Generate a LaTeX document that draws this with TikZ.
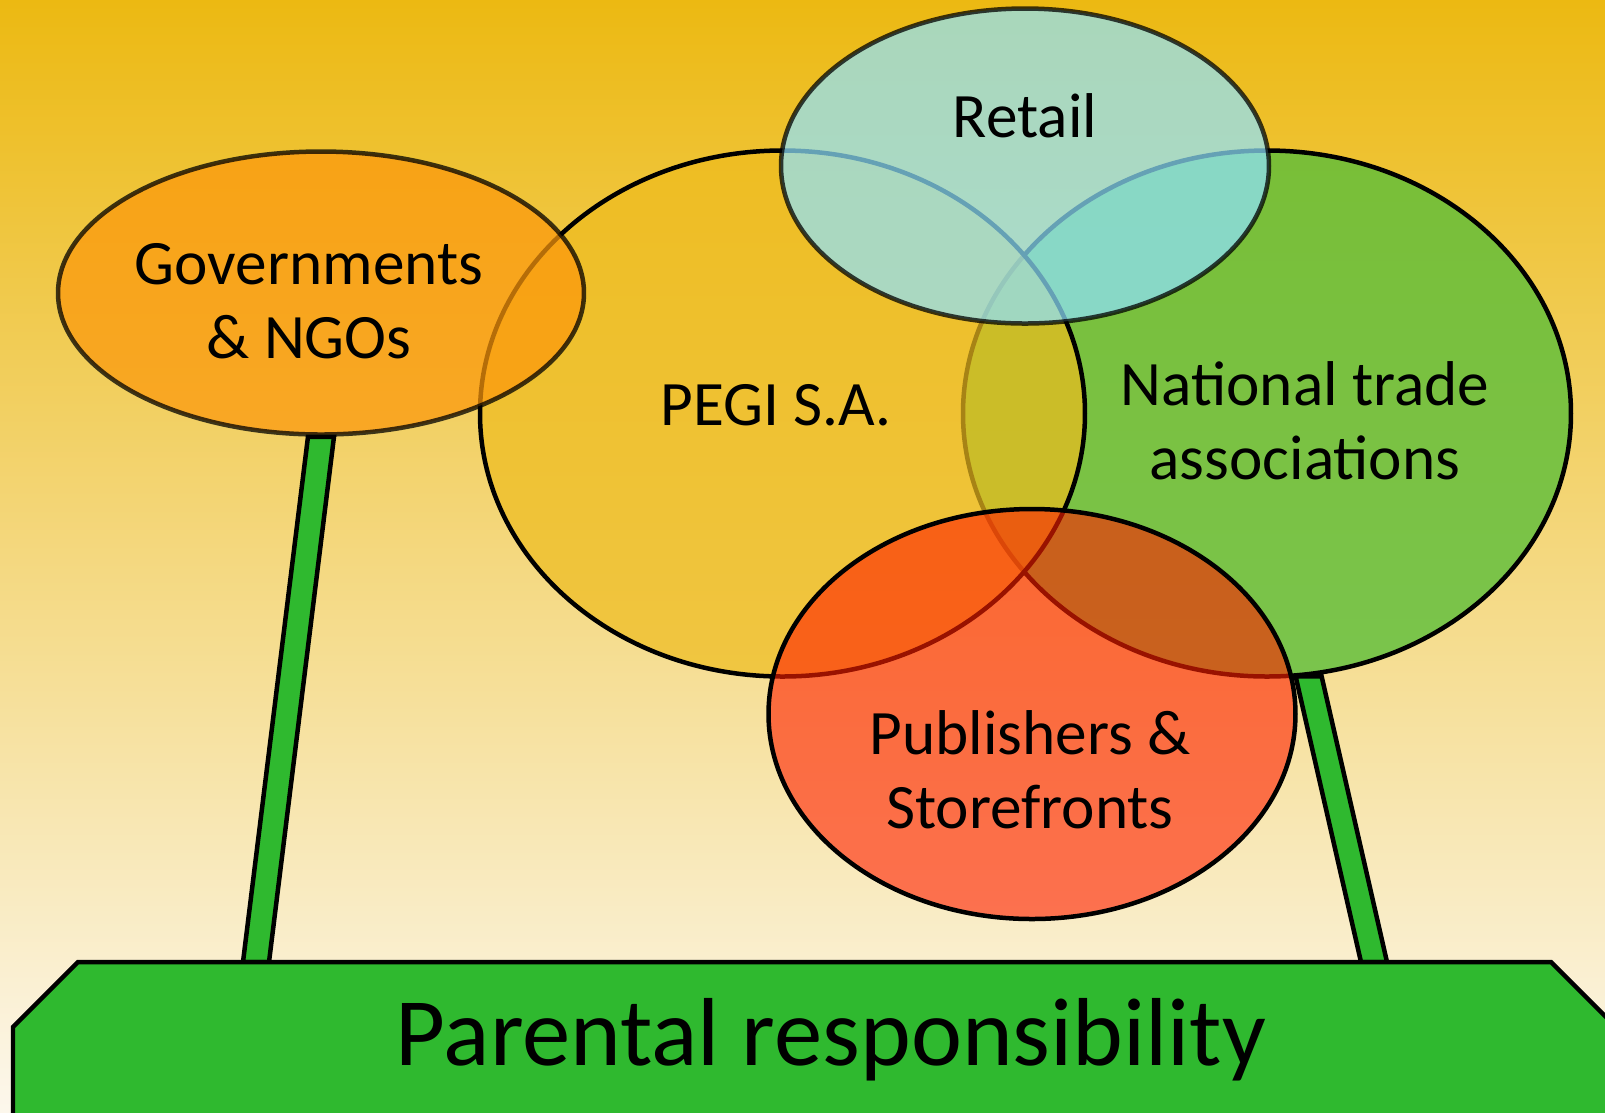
\documentclass[tikz,border=0pt]{standalone}
\usepackage{fontspec}
\setmainfont{Carlito}
\usetikzlibrary{shapes.geometric,calc}
\definecolor{bgtop}{RGB}{236,185,18}
\definecolor{bgbot}{RGB}{252,247,236}
\definecolor{pegigold}{RGB}{238,188,30}
\definecolor{tradegreen}{RGB}{92,190,58}
\definecolor{retailblue}{RGB}{143,227,255}
\definecolor{pubred}{RGB}{255,31,0}
\definecolor{govorange}{RGB}{252,152,12}
\definecolor{parentgreen}{RGB}{47,185,47}
\begin{document}
\begin{tikzpicture}[x=0.1mm, y=-0.1mm,
    venn/.style={ellipse, draw, line width=0.45mm, inner sep=0pt},
    lbl/.style={align=center, font=\fontsize{18}{21}\selectfont},
    pole/.style={draw, line width=0.45mm, fill=parentgreen}]
  \useasboundingbox (0,0) rectangle (1605,1112);
  \clip (0,0) rectangle (1605,1112);
  \shade[top color=bgtop, bottom color=bgbot] (0,0) rectangle (1605,1112);
  % the five bubbles, back to front
  \node[venn, fill=tradegreen, fill opacity=0.8, minimum width=60.8mm, minimum height=52.6mm] (trade) at (1267,413.5) {};
  \node[venn, fill=pegigold, fill opacity=0.7, minimum width=60.5mm, minimum height=52.6mm] (pegi) at (782.5,413.5) {};
  \node[venn, fill=pubred, fill opacity=0.6, minimum width=52.7mm, minimum height=41mm] (pub) at (1032,714) {};
  \node[venn, fill=retailblue, fill opacity=0.71, draw opacity=0.75, minimum width=48.8mm, minimum height=31.5mm] (retail) at (1025,166) {};
  \node[venn, fill=govorange, fill opacity=0.72, draw opacity=0.75, minimum width=52.6mm, minimum height=28.3mm] (gov) at (321,293) {};
  % feet of the poles on the base
  \coordinate (lfoot) at (256,962);
  \coordinate (rfoot) at (1374,962);
  \draw[pole] ($(gov.south)+(-13,0)$) -- ($(gov.south)+(13,0)$) -- ($(lfoot)+(13,0)$) -- ($(lfoot)+(-13,0)$) -- cycle;
  \draw[pole] ($(trade.-81)+(-13,0)$) -- ($(trade.-81)+(13,0)$) -- ($(rfoot)+(13,0)$) -- ($(rfoot)+(-13,0)$) -- cycle;
  \draw[line width=0.45mm, fill=parentgreen] (13,1130) -- (13,1027) -- (78,962) -- (1551,962) -- (1616,1027) -- (1616,1130) -- cycle;
  \node[font=\fontsize{27.5}{32}\selectfont] (parent) at (831,1040) {Parental responsibility};
  % labels
  \node[lbl] (govtxt) at (309,301) {Governments\\\& NGOs};
  \node[lbl] (pegitxt) at (776,405) {PEGI S.A.};
  \node[lbl] (retailtxt) at (1025,116) {Retail};
  \node[lbl] (tradetxt) at (1305,421) {National trade\\associations};
  \node[lbl] (pubtxt) at (1030,770) {Publishers \&\\Storefronts};
\end{tikzpicture}
\end{document}
